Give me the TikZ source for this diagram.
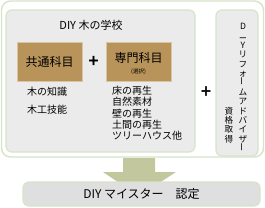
\documentclass[tikz,border=0pt]{standalone}
\usepackage{fontspec}
\setmainfont{Noto Sans CJK JP}[AutoFakeBold=3]
\definecolor{frameline}{HTML}{D6E4C8}
\definecolor{panel}{HTML}{EBEBEB}
\definecolor{tan}{HTML}{B8935A}
\definecolor{tanline}{HTML}{D8C6A2}
\definecolor{khaki}{HTML}{C3C79E}
\newcommand{\vbar}{\rotatebox{90}{ー}}
\tikzset{
  panelbox/.style={draw=frameline,line width=1.2pt,fill=panel,rounded corners=6pt},
  subject/.style={draw=tanline,line width=0.8pt,fill=tan,minimum width=65pt,minimum height=39pt},
  plussign/.style={font=\fontsize{17}{17}\selectfont\bfseries,inner sep=0pt},
  item/.style={font=\fontsize{10}{11.2}\selectfont,inner sep=0pt,anchor=west}
}
\begin{document}
\begin{tikzpicture}[x=1pt,y=-1pt]
\useasboundingbox (0,0) rectangle (265,207);
% outer frame
\node[draw=frameline,line width=1.4pt,fill=white,rounded corners=9pt,minimum width=262pt,minimum height=156pt] (frame) at (132.5,79) {};
% arrow to the result
\fill[khaki] (123,158)--(155,158)--(155,172)--(176,172)--(139,196)--(103,172)--(123,172)--cycle;
% school panel
\node[panelbox,minimum width=189pt,minimum height=142pt] (school) at (100.5,81) {};
\node[font=\fontsize{11}{11}\selectfont] (title) at (91,25) {DIY 木の学校};
\node[subject,font=\fontsize{12}{12}\selectfont] (common) at (49.5,61.5) {共通科目};
\node[subject] (special) at (138.5,61.5) {};
\node[font=\fontsize{12}{12}\selectfont] (specialname) at (138.5,58) {専門科目};
\node[font=\fontsize{5.5}{5.5}\selectfont] (choice) at (138.5,72) {(選択)};
\node[plussign] (plusa) at (93.5,61.5) {+};
\node[item] (know) at (27,92) {木の知識};
\node[item] (skill) at (27,110) {木工技能};
\node[item,anchor=north west,align=left] (topics) at (112,86) {床の再生\\自然素材\\壁の再生\\土間の再生\\ツリーハウス他};
\node[plussign] (plusb) at (206,92) {+};
% advisor panel
\node[panelbox,minimum width=42pt,minimum height=146pt] (advisor) at (237,83) {};
\node[font=\fontsize{8.6}{9.35}\selectfont,align=center,inner sep=0pt] (advname) at (243,87.5)
  {D\\\rotatebox{90}{I}\\Y\\リ\\フ\\ォ\\\vbar\\ム\\ア\\ド\\バ\\イ\\ザ\\\vbar};
\node[font=\fontsize{8.6}{9.2}\selectfont,align=center,inner sep=0pt] (qualify) at (229,125) {資\\格\\取\\得};
% result
\node[draw=frameline,line width=1.2pt,fill=panel!95!black,rounded corners=6pt,minimum width=237pt,minimum height=24pt,
  font=\fontsize{12}{12}\selectfont] (result) at (141.5,194) {DIY マイスター　認定};
\end{tikzpicture}
\end{document}
